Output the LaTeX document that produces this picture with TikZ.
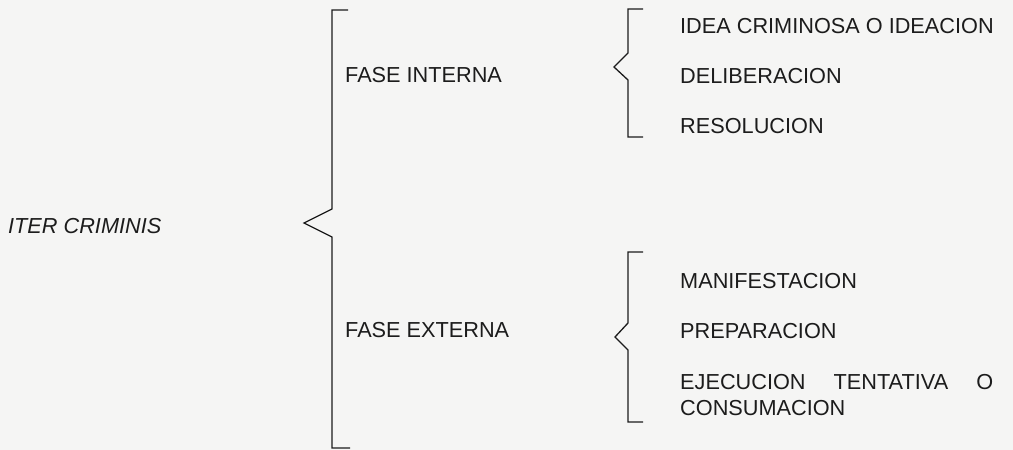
\documentclass[tikz,border=0pt]{standalone}
\usepackage{fontspec}
\setmainfont{Liberation Sans}
\definecolor{paper}{RGB}{245,245,244}
\definecolor{ink}{RGB}{28,28,28}

\begin{document}
\begin{tikzpicture}[x=1pt,y=-1pt,
  word/.style={anchor=base west,inner sep=0pt,text=ink,font=\fontsize{21.7}{26}\selectfont},
  brace/.style={draw=ink,line width=1.3pt,line join=miter}]
  \fill[paper] (0,0) rectangle (1013,450);
  \useasboundingbox (0,0) rectangle (1013,450);

  % Main term
  \node [word,font=\fontsize{21.7}{26}\selectfont\itshape] (iter) at (8,233) {ITER CRIMINIS};

  % Big brace
  \coordinate (m1) at (348,10);
  \coordinate (m2) at (332,10);
  \coordinate (m3) at (332,209);
  \coordinate (mt) at (304,223);
  \coordinate (m4) at (332,237);
  \coordinate (m5) at (332,448);
  \coordinate (m6) at (350,448);

  % Phases
  \node [word] (int) at (345,82)  {FASE INTERNA};
  \node [word] (ext) at (345,337) {FASE EXTERNA};

  % Internal phase brace
  \coordinate (i1) at (643,9);
  \coordinate (i2) at (628,9);
  \coordinate (i3) at (628,53);
  \coordinate (it) at (614,67);
  \coordinate (i4) at (628,80);
  \coordinate (i5) at (628,137);
  \coordinate (i6) at (643,137);

  \node [word] (idea) at (680,33)  {IDEA CRIMINOSA O IDEACION};
  \node [word] (delib) at (680,83)  {DELIBERACION};
  \node [word] (resol) at (680,133) {RESOLUCION};

  % External phase brace
  \coordinate (e1) at (643,252);
  \coordinate (e2) at (628,252);
  \coordinate (e3) at (628,323);
  \coordinate (et) at (615,337);
  \coordinate (e4) at (628,350);
  \coordinate (e5) at (628,422);
  \coordinate (e6) at (643,422);

  \node [word] (manif) at (680,288) {MANIFESTACION};
  \node [word] (prep)  at (680,338) {PREPARACION};
  \node [word] (ejec)  at (680,389) {\makebox[313pt][s]{EJECUCION TENTATIVA O}};
  \node [word] (cons)  at (680,415) {CONSUMACION};

  \draw [brace] (m1) -- (m2) -- (m3) -- (mt) -- (m4) -- (m5) -- (m6);
  \draw [brace] (i1) -- (i2) -- (i3) -- (it) -- (i4) -- (i5) -- (i6);
  \draw [brace] (e1) -- (e2) -- (e3) -- (et) -- (e4) -- (e5) -- (e6);
\end{tikzpicture}
\end{document}
